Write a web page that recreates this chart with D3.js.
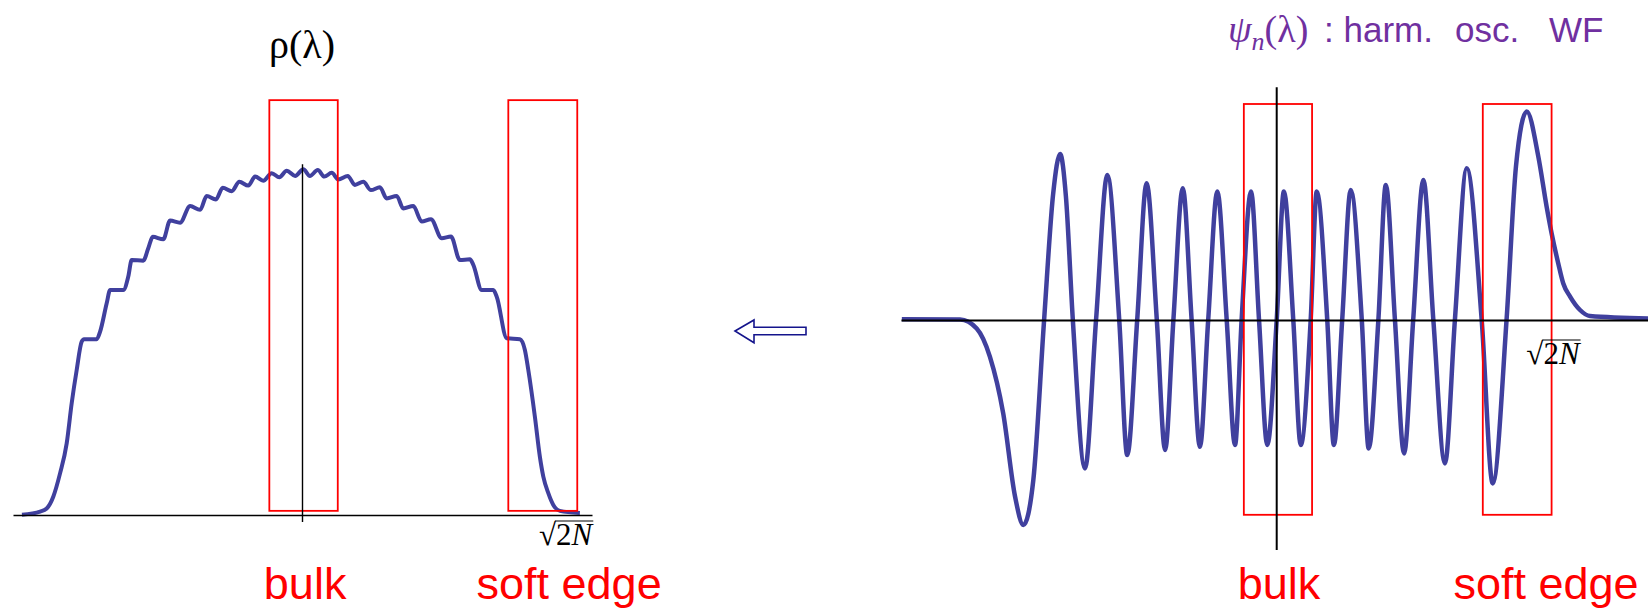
<!DOCTYPE html>
<html>
<head>
<meta charset="utf-8">
<script src="https://cdn.jsdelivr.net/npm/d3@7"></script>
<style>
   html, body { margin: 0; padding: 0; background: #fff; }
   svg { display: block; }
</style>
</head>
<body>
<svg id="chart" width="1648" height="608"></svg>
<script>
// density rho(lambda); lambda in units of sqrt(2N), rho scaled so the bulk is ~1
var rhoLambda = [-1.066, -0.997, -0.972, -0.947, -0.921, -0.896, -0.877, -0.858, -0.839, -0.830,
   -0.782, -0.769, -0.744, -0.731, -0.681, -0.662, -0.649, -0.605, -0.586, -0.569,
   -0.529, -0.503, -0.465, -0.427, -0.389, -0.364, -0.329, -0.303, -0.269, -0.240,
   -0.206, -0.180, -0.149, -0.117, -0.088, -0.060, -0.028, 0.003, 0.028, 0.058,
   0.083, 0.111, 0.136, 0.172, 0.199, 0.231, 0.260, 0.294, 0.320, 0.358,
   0.383, 0.421, 0.453, 0.488, 0.529, 0.564, 0.598, 0.636, 0.649, 0.681,
   0.725, 0.738, 0.776, 0.826, 0.845, 0.858, 0.883, 0.902, 0.915, 0.934,
   0.953, 0.978, 1.054];
var rhoValues = [0.001, 0.010, 0.019, 0.053, 0.121, 0.207, 0.323, 0.419, 0.501, 0.508,
   0.508, 0.530, 0.612, 0.650, 0.650, 0.689, 0.737, 0.735, 0.771, 0.804,
   0.797, 0.851, 0.845, 0.893, 0.882, 0.922, 0.912, 0.946, 0.936, 0.963,
   0.952, 0.978, 0.966, 0.988, 0.976, 0.995, 0.980, 0.999, 0.980, 0.997,
   0.978, 0.989, 0.970, 0.980, 0.954, 0.963, 0.939, 0.947, 0.915, 0.922,
   0.886, 0.893, 0.848, 0.855, 0.800, 0.805, 0.737, 0.739, 0.723, 0.650,
   0.650, 0.631, 0.511, 0.508, 0.477, 0.419, 0.284, 0.168, 0.111, 0.063,
   0.029, 0.012, 0.006];

// harmonic oscillator wave function psi_n(lambda): zeros, extrema and tails
var psiLambda = [-1.357, -1.146, -1.086, -1.038, -0.990, -0.947, -0.917, -0.881, -0.842, -0.809,
   -0.784, -0.763, -0.738, -0.694, -0.654, -0.613, -0.570, -0.541, -0.505, -0.471,
   -0.434, -0.404, -0.374, -0.340, -0.308, -0.278, -0.248, -0.215, -0.181, -0.151,
   -0.127, -0.093, -0.064, -0.034, 0.000, 0.026, 0.060, 0.087, 0.123, 0.145,
   0.183, 0.207, 0.237, 0.268, 0.308, 0.333, 0.368, 0.395, 0.428, 0.461,
   0.494, 0.531, 0.567, 0.609, 0.645, 0.688, 0.742, 0.782, 0.832, 0.866,
   0.905, 0.947, 0.977, 0.995, 1.019, 1.037, 1.062, 1.098, 1.134, 1.344];
var psiValues = [0.004, 0.003, -0.042, -0.184, -0.467, -0.884, -1.025, -0.800, 0, 0.634,
   0.830, 0.617, 0, -0.742, 0, 0.725, 0, -0.675, 0, 0.684,
   0, -0.650, 0, 0.659, 0, -0.634, 0, 0.642, 0, -0.625,
   0, 0.642, 0, -0.625, 0, 0.642, 0, -0.625, 0, 0.642,
   0, -0.625, 0, 0.650, 0, -0.642, 0, 0.675, 0, -0.667,
   0, 0.700, 0, -0.717, 0, 0.759, 0, -0.817, 0, 0.767,
   1.042, 0.817, 0.567, 0.434, 0.284, 0.184, 0.117, 0.050, 0.020, 0.008];

// windows [from, to] along lambda, and where their names sit
var windowNames = ['bulk', 'soft edge'];
var rhoWindows = [[-0.126, 0.134], [0.782, 1.044]];
var psiWindows = [[-0.119, 0.128], [0.746, 0.995]];
var rhoLabelAt = [0.010, 1.013];
var psiLabelAt = [0.008, 0.975];
var edgeAt = 1;

var titleWords = [': harm.', 'osc.', 'WF'];

var svg = d3.select('#chart');
var curveColor = '#40409e';

function pairs(xs, ys) {
   return xs.map(function (x, i) {
      return [x, ys[i]];
   });
}

function drawEdgeLabel(g, x, baseline) {
   // sqrt(2N) with a vinculum over "2N"
   var t = g.append('text')
      .attr('x', x)
      .attr('y', baseline)
      .attr('text-anchor', 'middle')
      .style('font', '31px "Liberation Serif", serif');
   t.append('tspan').text('\u221A');
   t.append('tspan').text('2');
   t.append('tspan').style('font-style', 'italic').text('N');

   var node = t.node();
   var x0 = node.getStartPositionOfChar(1).x - 1;
   var x1 = node.getEndPositionOfChar(2).x + 1;
   g.append('line')
      .attr('x1', x0).attr('x2', x1)
      .attr('y1', baseline - 24).attr('y2', baseline - 24)
      .attr('stroke', '#000')
      .attr('stroke-width', 1.2);
}

function drawPanel(p) {
   var g = svg.append('g');

   var line = d3.line()
      .x(function (d) { return p.x(d[0]); })
      .y(function (d) { return p.y(d[1]); })
      .curve(p.curve);

   g.append('path')
      .datum(pairs(p.lambda, p.values))
      .attr('d', line)
      .attr('fill', 'none')
      .attr('stroke', curveColor)
      .attr('stroke-width', p.curveWidth)
      .attr('stroke-linejoin', 'round');

   // red windows
   g.selectAll('rect.window')
      .data(p.windows)
      .enter().append('rect')
      .attr('class', 'window')
      .attr('x', function (d) { return p.x(d[0]); })
      .attr('width', function (d) { return p.x(d[1]) - p.x(d[0]); })
      .attr('y', p.y(p.windowTop))
      .attr('height', p.y(p.windowBottom) - p.y(p.windowTop))
      .attr('fill', 'none')
      .attr('stroke', '#ff0000')
      .attr('stroke-width', 1.8);

   // axes: no ticks, just the two lines
   var xAxis = d3.axisBottom(p.x).tickValues([]).tickSizeOuter(0);
   g.append('g')
      .attr('transform', 'translate(0,' + p.y(0) + ')')
      .call(xAxis)
      .select('.domain')
      .attr('stroke', '#000')
      .attr('stroke-width', p.axisWidth);

   g.append('line')
      .attr('x1', p.x(0)).attr('x2', p.x(0))
      .attr('y1', p.y(p.vTop)).attr('y2', p.y(p.vBottom))
      .attr('stroke', '#000')
      .attr('stroke-width', p.axisWidth);

   g.selectAll('text.window-label')
      .data(windowNames)
      .enter().append('text')
      .attr('class', 'window-label')
      .attr('x', function (d, i) { return p.x(p.labelAt[i]); })
      .attr('y', 599)
      .attr('text-anchor', 'middle')
      .attr('fill', '#ff0000')
      .style('font', '45px "Liberation Sans", Arial, sans-serif')
      .text(function (d) { return d; });

   drawEdgeLabel(g, p.x(edgeAt), p.y(0) + p.edgeDrop);

   return g;
}

drawPanel({
   x: d3.scaleLinear().domain([-1.1, 1.1]).range([13, 592]),
   y: d3.scaleLinear().domain([0, 1]).range([515, 169]),
   lambda: rhoLambda,
   values: rhoValues,
   curve: d3.curveMonotoneX,
   curveWidth: 4,
   axisWidth: 1.4,
   windows: rhoWindows,
   windowTop: 1.199,
   windowBottom: 0.012,
   vTop: 1.014,
   vBottom: -0.02,
   labelAt: rhoLabelAt,
   edgeDrop: 30
});

drawPanel({
   x: d3.scaleLinear().domain([-1.36, 1.344]).range([901, 1648]),
   y: d3.scaleLinear().domain([0, 1]).range([320, 120]),
   lambda: psiLambda,
   values: psiValues,
   curve: d3.curveMonotoneX,
   curveWidth: 4.5,
   axisWidth: 2,
   windows: psiWindows,
   windowTop: 1.08,
   windowBottom: -0.974,
   vTop: 1.164,
   vBottom: -1.15,
   labelAt: psiLabelAt,
   edgeDrop: 44
});

// titles
svg.append('text')
   .attr('x', 302)
   .attr('y', 58)
   .attr('text-anchor', 'middle')
   .style('font', '40px "Liberation Serif", serif')
   .text('\u03C1(\u03BB)');

var psiTitle = svg.append('text')
   .attr('x', 1228)
   .attr('y', 42)
   .attr('fill', '#7030a0');
psiTitle.append('tspan')
   .style('font', 'italic 38px "Liberation Serif", serif')
   .text('\u03C8');
psiTitle.append('tspan')
   .attr('dy', 8)
   .style('font', 'italic 26px "Liberation Serif", serif')
   .text('n');
psiTitle.append('tspan')
   .attr('dy', -8)
   .style('font', '38px "Liberation Serif", serif')
   .text('(\u03BB)');

// the sans words are placed where they stand in the slide
var wordX = [1324, 1455, 1549];
svg.append('g').selectAll('text')
   .data(titleWords)
   .enter().append('text')
   .attr('x', function (d, i) { return wordX[i]; })
   .attr('y', 42)
   .attr('fill', '#7030a0')
   .style('font', '35px "Liberation Sans", Arial, sans-serif')
   .style('white-space', 'pre')
   .text(function (d) { return d; });

// the arrow between the panels (points from the wave function to the density)
svg.append('path')
   .attr('transform', 'translate(735,331)')
   .attr('d', 'M0,0 L19,-11 L19,-3.7 L71,-3.7 L71,3.7 L19,3.7 L19,11.7 Z')
   .attr('fill', '#fff')
   .attr('stroke', '#14148c')
   .attr('stroke-width', 1.6);
</script>
</body>
</html>
